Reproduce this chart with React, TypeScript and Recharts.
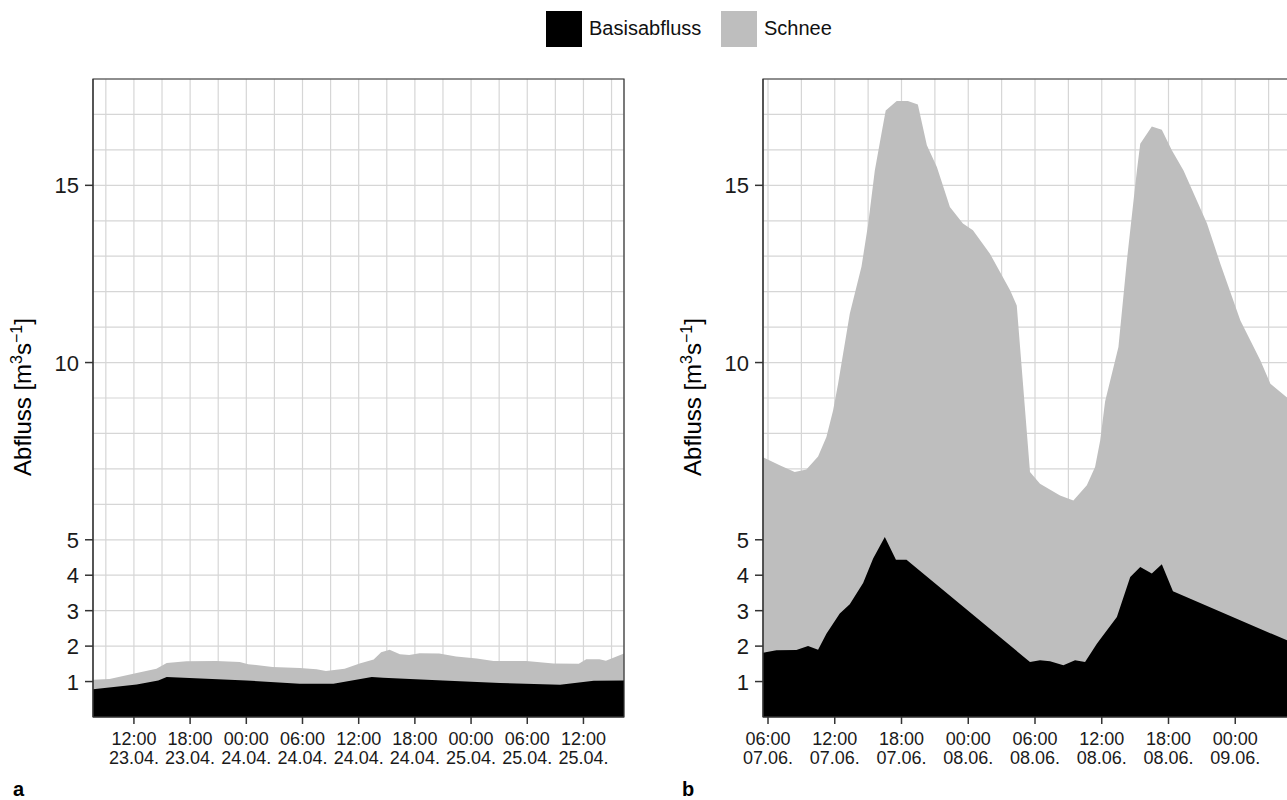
import { ComposedChart, Area, XAxis, YAxis, CartesianGrid, ReferenceArea } from 'recharts'

const FONT = '"Liberation Sans", Arial, Helvetica, sans-serif'

const yTicks = [1, 2, 3, 4, 5, 10, 15]
const yGrid = [1, 2, 3, 4, 5, 6, 7, 8, 9, 10, 11, 12, 13, 14, 15, 16, 17]

// Panel a: Stunden ab 23.04. 00:00
const ticksA = [12, 18, 24, 30, 36, 42, 48, 54, 60]
const tickLabelsA = [
  ['12:00', '23.04.'], ['18:00', '23.04.'], ['00:00', '24.04.'], ['06:00', '24.04.'], ['12:00', '24.04.'],
  ['18:00', '24.04.'], ['00:00', '25.04.'], ['06:00', '25.04.'], ['12:00', '25.04.'],
]
const gridA = [9, 12, 15, 18, 21, 24, 27, 30, 33, 36, 39, 42, 45, 48, 51, 54, 57, 60, 63]
const basisZeitA = [7.63, 12.3, 14.6, 15.5, 24, 29.7, 33.3, 37.4, 38.6, 45, 51.1, 57.5, 61.1, 64.33]
const basisA = [0.78, 0.92, 1.03, 1.13, 1.03, 0.94, 0.94, 1.13, 1.11, 1.03, 0.96, 0.91, 1.02, 1.03]
const gesamtZeitA = [7.63, 9.4, 12.3, 14.4, 15.5, 17.6, 20.8, 23.3, 24.2, 26.8, 29.7, 31.5, 32.5, 34.5, 36.1, 37.6, 38.4, 39.3, 40.4, 41.4, 42.5, 44.6, 46.4, 48.6, 50.4, 53.9, 56.8, 59.5, 60.3, 61.7, 62.4, 64.33]
const gesamtA = [1.05, 1.07, 1.24, 1.36, 1.52, 1.57, 1.58, 1.55, 1.49, 1.41, 1.38, 1.35, 1.3, 1.36, 1.51, 1.62, 1.83, 1.9, 1.77, 1.75, 1.8, 1.79, 1.71, 1.65, 1.58, 1.58, 1.51, 1.5, 1.63, 1.63, 1.59, 1.79]

// Panel b: Stunden ab 07.06. 00:00
const ticksB = [6, 12, 18, 24, 30, 36, 42, 48]
const tickLabelsB = [
  ['06:00', '07.06.'], ['12:00', '07.06.'], ['18:00', '07.06.'], ['00:00', '08.06.'], ['06:00', '08.06.'],
  ['12:00', '08.06.'], ['18:00', '08.06.'], ['00:00', '09.06.'],
]
const gridB = [6, 9, 12, 15, 18, 21, 24, 27, 30, 33, 36, 39, 42, 45, 48, 51, 54]
const basisZeitB = [5.55, 6.75, 8.55, 9.6, 10.5, 11.25, 12.45, 13.35, 14.55, 15.45, 16.5, 17.5, 18.45, 29.55, 30.45, 31.35, 32.55, 33.6, 34.5, 35.56, 37.36, 38.56, 39.46, 40.5, 41.4, 42.4, 54]
const basisB = [1.81, 1.88, 1.89, 2.0, 1.9, 2.35, 2.92, 3.18, 3.78, 4.47, 5.08, 4.44, 4.44, 1.55, 1.6, 1.57, 1.46, 1.6, 1.55, 2.07, 2.82, 3.95, 4.23, 4.05, 4.31, 3.55, 1.98]
const gesamtZeitB = [5.55, 7.05, 8.4, 9.45, 10.5, 11.25, 11.85, 12.3, 13.35, 14.4, 15.0, 15.6, 16.2, 16.58, 17.57, 18.57, 19.47, 20.28, 21.18, 22.35, 23.52, 24.42, 25.95, 27.76, 28.36, 29.55, 30.45, 32.25, 33.45, 34.66, 35.4, 35.86, 36.3, 37.5, 38.26, 38.86, 39.16, 39.46, 40.5, 41.4, 42.3, 43.35, 45.46, 46.66, 48.46, 50.26, 51.16, 52.7, 54]
const gesamtB = [7.33, 7.1, 6.91, 6.98, 7.35, 7.9, 8.65, 9.4, 11.38, 12.7, 13.9, 15.42, 16.46, 17.11, 17.38, 17.38, 17.28, 16.13, 15.52, 14.39, 13.92, 13.73, 13.07, 12.04, 11.61, 6.91, 6.58, 6.25, 6.11, 6.54, 7.05, 7.8, 8.9, 10.44, 12.88, 14.58, 15.42, 16.17, 16.66, 16.57, 15.99, 15.42, 13.92, 12.79, 11.19, 10.06, 9.4, 9.0, 8.8]

function mergeSeries(tb: number[], vb: number[], tg: number[], vg: number[]) {
  const times = Array.from(new Set([...tb, ...tg])).sort((a, b) => a - b)
  return times.map(t => {
    const ib = tb.indexOf(t)
    const ig = tg.indexOf(t)
    return { t, basis: ib >= 0 ? vb[ib] : null, gesamt: ig >= 0 ? vg[ig] : null }
  })
}

const dataA = mergeSeries(basisZeitA, basisA, gesamtZeitA, gesamtA)
const dataB = mergeSeries(basisZeitB, basisB, gesamtZeitB, gesamtB)

const PLOT_TOP = 79
const PLOT_BOTTOM = 717
const AXIS_W = 93

function YTick(props: any) {
  const { y, payload } = props
  if (!yTicks.includes(payload.value)) return <g />
  return (
    <g>
      <line x1={AXIS_W - 8} x2={AXIS_W} y1={y} y2={y} stroke="#333" strokeWidth={1.5} />
      <text x={AXIS_W - 14} y={y + 8} textAnchor="end" fontSize={22} fill="#1a1a1a" fontFamily={FONT}>
        {payload.value}
      </text>
    </g>
  )
}

function makeXTick(major: number[], labels: string[][]) {
  return (props: any) => {
    const { x, payload } = props
    const i = major.indexOf(payload.value)
    if (i < 0) return <g />
    return (
      <g>
        <line x1={x} x2={x} y1={PLOT_BOTTOM} y2={PLOT_BOTTOM + 7} stroke="#333" strokeWidth={1.5} />
        <text x={x} y={745} textAnchor="middle" fontSize={18} fill="#1a1a1a" fontFamily={FONT}>{labels[i][0]}</text>
        <text x={x} y={763.5} textAnchor="middle" fontSize={18} fill="#1a1a1a" fontFamily={FONT}>{labels[i][1]}</text>
      </g>
    )
  }
}

function AxisTitle() {
  const cy = (PLOT_TOP + PLOT_BOTTOM) / 2 - 1
  return (
    <text transform={`translate(31,${cy}) rotate(-90)`} textAnchor="middle" fontSize={24} fill="#000" fontFamily={FONT}>
      Abfluss [m<tspan dy={-9} fontSize={16}>3</tspan>
      <tspan dy={9}>s</tspan>
      <tspan dy={-9} fontSize={16}>{'\u22121'}</tspan>
      <tspan dy={9}>]</tspan>
    </text>
  )
}

function Panel({ data, domain, grid, major, labels, width }: any) {
  return (
    <ComposedChart width={width} height={800} data={data} margin={{ top: PLOT_TOP, right: 16, bottom: 0, left: 0 }}>
      <CartesianGrid stroke="#d6d6d6" strokeWidth={1.2} />
      <XAxis
        dataKey="t"
        type="number"
        domain={domain}
        ticks={grid}
        interval={0}
        allowDataOverflow
        height={800 - PLOT_BOTTOM}
        axisLine={{ stroke: '#333' }}
        tickLine={false}
        tick={makeXTick(major, labels)}
      />
      <YAxis
        type="number"
        domain={[0, 18]}
        ticks={yGrid}
        interval={0}
        width={AXIS_W}
        axisLine={{ stroke: '#333' }}
        tickLine={false}
        tick={YTick}
        label={<AxisTitle />}
      />
      <Area type="linear" dataKey="gesamt" stroke="none" fill="#bebebe" fillOpacity={1} connectNulls isAnimationActive={false} />
      <Area type="linear" dataKey="basis" stroke="none" fill="#000" fillOpacity={1} connectNulls isAnimationActive={false} />
      <ReferenceArea x1={domain[0]} x2={domain[1]} y1={0} y2={18} fill="none" stroke="#333" strokeWidth={1.2} ifOverflow="visible" />
    </ComposedChart>
  )
}

export default function App() {
  return (
    <div style={{ position: 'fixed', left: 0, top: 0, width: 1287, height: 800, overflow: 'hidden', background: '#fff', fontFamily: FONT }}>
      <div style={{ position: 'absolute', left: 546, top: 11, width: 36, height: 36, background: '#000' }} />
      <div style={{ position: 'absolute', left: 589, top: 15, fontSize: 20, color: '#111', lineHeight: '26px' }}>Basisabfluss</div>
      <div style={{ position: 'absolute', left: 721, top: 11, width: 36, height: 36, background: '#bebebe' }} />
      <div style={{ position: 'absolute', left: 764, top: 15, fontSize: 20, color: '#111', lineHeight: '26px' }}>Schnee</div>

      <div style={{ position: 'absolute', left: 0, top: 0 }}>
        <Panel data={dataA} domain={[7.63, 64.33]} grid={gridA} major={ticksA} labels={tickLabelsA} width={640} />
      </div>
      <div style={{ position: 'absolute', left: 670, top: 0 }}>
        <Panel data={dataB} domain={[5.55, 54]} grid={gridB} major={ticksB} labels={tickLabelsB} width={648} />
      </div>

      <div style={{ position: 'absolute', left: 13, top: 778, fontSize: 20, fontWeight: 'bold' }}>a</div>
      <div style={{ position: 'absolute', left: 682, top: 778, fontSize: 20, fontWeight: 'bold' }}>b</div>
    </div>
  )
}
